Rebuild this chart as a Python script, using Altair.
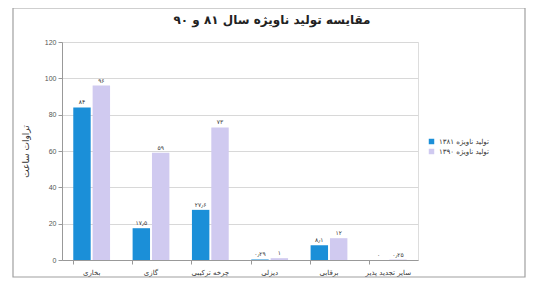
import altair as alt
import pandas as pd

categories = ["بخاری", "گازی", "چرخه ترکیبی", "دیزلی", "برقابی", "سایر تجدید پذیر"]
series = ["تولید ناویژه ۱۳۸۱", "تولید ناویژه ۱۳۹۰"]
values_1381 = [84, 17.5, 27.6, 0.29, 8.1, 0]
values_1390 = [96, 59, 73, 1, 12, 0.25]
y_ticks = [0, 20, 40, 60, 80, 100, 120]
colors = ["#1b8fd8", "#d0caf0"]

FA = str.maketrans("0123456789.", "۰۱۲۳۴۵۶۷۸۹٫")


def fa(v):
    s = ("%g" % v)
    return s.translate(FA)


rows = []
for s, vals in zip(series, [values_1381, values_1390]):
    for c, v in zip(categories, vals):
        rows.append({"cat": c, "series": s, "value": v, "label": fa(v)})
df = pd.DataFrame(rows)

FONT = "DejaVu Sans"

x = alt.X("cat:N", sort=categories, title=None,
          scale=alt.Scale(paddingInner=0.38, paddingOuter=0.19),
          axis=alt.Axis(labelAngle=0, labelFontSize=7, labelFont=FONT, labelColor="#333",
                        domainColor="#999", tickColor="#999", bandPosition=0,
                        tickSize=4, labelPadding=4, grid=False))
xo = alt.XOffset("series:N", sort=series, scale=alt.Scale(paddingInner=0.1))
y = alt.Y("value:Q", title="تراوات ساعت",
          scale=alt.Scale(domain=[0, 120]),
          axis=alt.Axis(values=y_ticks, labelFontSize=7, labelColor="#555",
                        titleFont=FONT, titleFontSize=9, titleFontWeight="normal",
                        titleColor="#333", titlePadding=14,
                        domainColor="#999", tickColor="#999", tickSize=4,
                        gridColor="#d8d8d8"))
color = alt.Color("series:N", sort=series, title=None,
                  scale=alt.Scale(domain=series, range=colors),
                  legend=alt.Legend(orient="none", legendX=366, legendY=96,
                                    symbolType="square", symbolSize=30,
                                    labelFont=FONT, labelFontSize=7,
                                    labelColor="#333", rowPadding=2,
                                    symbolStrokeWidth=0))

base = alt.Chart(df)
bars = base.mark_bar().encode(x=x, xOffset=xo, y=y, color=color)
labels = base.mark_text(dy=-5, fontSize=6, font=FONT, color="#333").encode(
    x=x, xOffset=xo, y=y, text="label:N")

border = alt.Chart(pd.DataFrame({"a": [0]})).mark_rect(
    fillOpacity=0, stroke="#a0a0a0", strokeWidth=1.2).encode(
    x=alt.value(-49), x2=alt.value(463), y=alt.value(-34), y2=alt.value(235))

chart = alt.layer(bars, labels, border).properties(
    width=356, height=218,
    title=alt.TitleParams("مقایسه تولید ناویژه سال ۸۱ و ۹۰", font=FONT, fontSize=12,
                          fontWeight="bold", anchor="middle", dx=32, offset=-20,
                          frame="group", color="#222"),
    autosize=alt.AutoSizeParams(type="none"),
    padding={"left": 54, "top": 34, "right": 110, "bottom": 18},
).configure_view(stroke=None).configure(background="white")

chart.save("out.html", embed_options={"renderer": "svg", "actions": False})
